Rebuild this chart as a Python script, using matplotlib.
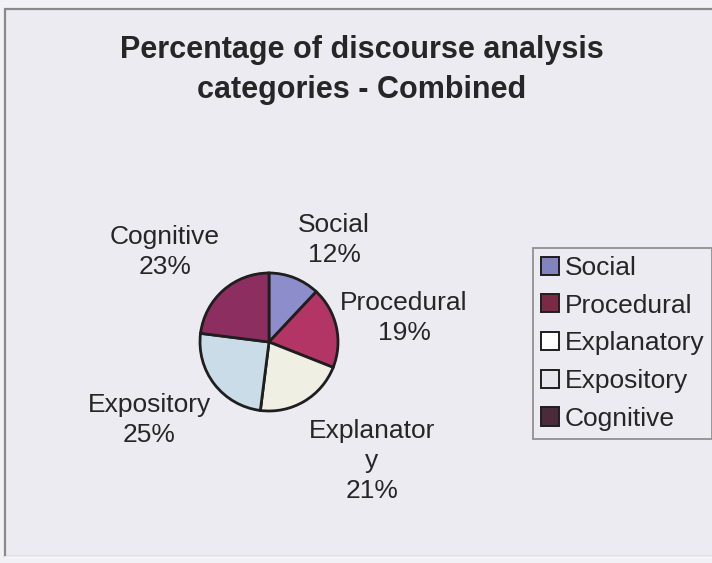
import matplotlib
matplotlib.use("Agg")
import matplotlib.pyplot as plt
from matplotlib.patches import Patch, Rectangle

categories = ["Social", "Procedural", "Explanatory", "Expository", "Cognitive"]
percent = [12, 19, 21, 25, 23]
slice_colors = ["#8c8dca", "#b33565", "#efefe3", "#c9dce8", "#8d2e61"]
legend_colors = ["#8383bf", "#7b2a45", "#ffffff", "#e6e6ec", "#4b2b3a"]

# label text + centre (pixel coords, y measured from top)
slice_labels = {
    "Social": ("Social\n12%", 334, 240),
    "Procedural": ("Procedural\n19%", 404, 318),
    "Explanatory": ("Explanator\ny\n21%", 372, 461),
    "Expository": ("Expository\n25%", 149, 420),
    "Cognitive": ("Cognitive\n23%", 165, 252),
}
title_lines = ["Percentage of discourse analysis", "categories - Combined"]

W, H = 712, 563
BG = "#ebebf1"
INK = "#262626"


def py(y):
    return H - y


plt.rcParams["font.family"] = ["Liberation Sans", "DejaVu Sans"]

fig = plt.figure(figsize=(W / 100, H / 100), dpi=100, facecolor="#f2f2f6")
ax = fig.add_axes([0, 0, 1, 1])

# chart area frame (runs off the right edge)
ax.add_patch(Rectangle((5, py(557)), W + 20, 557 - 9, facecolor=BG,
                       edgecolor="#8a8a8a", lw=1.6))
ax.plot([5, W], [py(557), py(557)], color="#f7f7f9", lw=2)

ax.pie(percent, colors=slice_colors, startangle=90, counterclock=False,
       center=(269, py(342)), radius=69,
       wedgeprops=dict(edgecolor="#1e1e1e", linewidth=2))
ax.set_xlim(0, W)
ax.set_ylim(0, H)
ax.set_aspect("equal")
ax.axis("off")

for name in categories:
    txt, x, y = slice_labels[name]
    ax.text(x, py(y), txt, ha="center", va="center", fontsize=19,
            color=INK, linespacing=1.33)

for line, base in zip(title_lines, [58, 98]):
    ax.text(362, py(base), line, ha="center", va="baseline", fontsize=22,
            fontweight="bold", color=INK)

handles = [Patch(facecolor=c, edgecolor="#1e1e1e", lw=1.4) for c in legend_colors]
leg = ax.legend(handles, categories, loc="upper left",
                bbox_to_anchor=(533 / W, py(248) / H), bbox_transform=fig.transFigure,
                fontsize=19, frameon=True, fancybox=False, handlelength=0.68,
                handleheight=0.68, handletextpad=0.22, labelspacing=0.52,
                borderpad=0.3, borderaxespad=0, labelcolor=INK)
leg.get_frame().set_facecolor(BG)
leg.get_frame().set_edgecolor("#7a7a7a")
leg.get_frame().set_linewidth(1.3)

fig.savefig("out.png", dpi=100, facecolor=fig.get_facecolor())
